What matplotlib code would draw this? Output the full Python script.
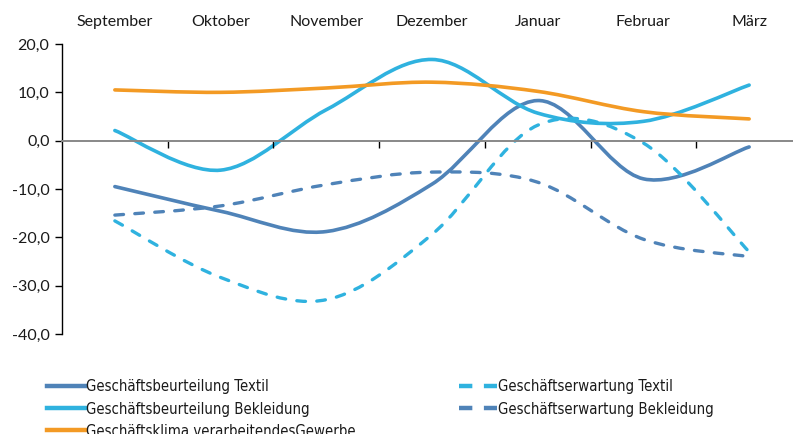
import matplotlib
matplotlib.use("Agg")
import matplotlib.pyplot as plt
from matplotlib.path import Path
from matplotlib.patches import PathPatch
from matplotlib.lines import Line2D
from matplotlib.font_manager import FontProperties
import numpy as np

months = ["September", "Oktober", "November", "Dezember", "Januar", "Februar", "März"]

beurteilung_textil = [-9.5, -14.6, -18.8, -9.0, 8.3, -7.9, -1.3]
beurteilung_bekleidung = [2.1, -6.1, 6.4, 16.8, 5.7, 4.0, 11.5]
klima_gewerbe = [10.5, 10.0, 10.9, 12.1, 10.2, 6.0, 4.5]
erwartung_textil = [-16.6, -28.3, -32.9, -19.4, 3.2, -0.5, -23.0]
erwartung_bekleidung = [-15.4, -13.5, -9.1, -6.5, -8.6, -20.4, -24.0]

labels = ["Geschäftsbeurteilung Textil", "Geschäftsbeurteilung Bekleidung",
          "Geschäftsklima verarbeitendesGewerbe",
          "Geschäftserwartung Textil", "Geschäftserwartung Bekleidung"]

c_steel = "#4f83b8"
c_cyan = "#2fb2df"
c_orange = "#f39a24"

plt.rcParams['font.family'] = ['Lato', 'DejaVu Sans']
txt_color = "#1a1a1a"


def smooth_path(y):
    # Excel-artige Glättung: Catmull-Rom als kubische Bezier-Segmente
    pts = np.column_stack([np.arange(len(y)), np.asarray(y, float)])
    ext = np.vstack([pts[0], pts, pts[-1]])
    verts = [pts[0]]
    codes = [Path.MOVETO]
    for i in range(len(pts) - 1):
        p0, p1, p2, p3 = ext[i], ext[i + 1], ext[i + 2], ext[i + 3]
        verts += [p1 + (p2 - p0) / 6, p2 - (p3 - p1) / 6, p2]
        codes += [Path.CURVE4] * 3
    return Path(verts, codes)


fig = plt.figure(figsize=(7.93, 4.34), dpi=100)
ax = fig.add_axes([62 / 793, 100 / 434, 740 / 793, 290 / 434])

series = [
    (beurteilung_textil, c_steel, "-"),
    (beurteilung_bekleidung, c_cyan, "-"),
    (klima_gewerbe, c_orange, "-"),
    (erwartung_textil, c_cyan, "--"),
    (erwartung_bekleidung, c_steel, "--"),
]
for vals, col, ls in series:
    if ls == "-":
        patch = PathPatch(smooth_path(vals), facecolor="none", edgecolor=col,
                          lw=2.6, capstyle="round", joinstyle="round")
    else:
        patch = PathPatch(smooth_path(vals), facecolor="none", edgecolor=col,
                          lw=2.4, capstyle="round", linestyle=(0, (2.6, 3.4)))
    ax.add_patch(patch)

ax.set_xlim(-0.5, len(months) - 0.5)
ax.set_ylim(-40, 20)
ax.set_yticks(np.arange(-40, 21, 10))
ax.set_yticklabels([f"{v:.1f}".replace(".", ",") for v in np.arange(-40, 21, 10)])

ax.set_xticks(range(len(months)))
ax.set_xticklabels(months)
ax.set_xticks(np.arange(0.5, len(months) - 1, 1.0), minor=True)

for s in ["top", "right"]:
    ax.spines[s].set_visible(False)
ax.spines["left"].set_color("#000000")
ax.spines["left"].set_linewidth(1.0)
ax.spines["bottom"].set_position(("data", 0))
ax.spines["bottom"].set_color("#888888")
ax.spines["bottom"].set_linewidth(1.4)

ax.tick_params(axis="x", which="major", bottom=False, top=False,
               labelbottom=False, labeltop=True, pad=7,
               labelsize=11.5, labelcolor=txt_color)
ax.tick_params(axis="x", which="minor", bottom=True, top=False,
               direction="out", length=5, width=1.0, color="#000000")
ax.tick_params(axis="y", direction="out", length=5, width=1.0, pad=4,
               labelsize=11.5, labelcolor=txt_color)

h_left = [Line2D([], [], color=c_steel, lw=3.2),
          Line2D([], [], color=c_cyan, lw=3.2),
          Line2D([], [], color=c_orange, lw=3.2)]
h_right = [Line2D([], [], color=c_cyan, lw=3.2, linestyle=(0, (3.0, 2.6))),
           Line2D([], [], color=c_steel, lw=3.2, linestyle=(0, (3.0, 2.6)))]

leg_font = FontProperties(family=["DejaVu Sans"], stretch="condensed", size=10.7)
leg1 = fig.legend(h_left, labels[:3], loc="upper left",
                  bbox_to_anchor=(40 / 793, 1 - 372 / 434), frameon=False,
                  prop=leg_font, handlelength=2.5, handletextpad=0.1,
                  labelspacing=0.48, borderpad=0, labelcolor=txt_color)
leg2 = fig.legend(h_right, labels[3:], loc="upper left",
                  bbox_to_anchor=(452 / 793, 1 - 372 / 434), frameon=False,
                  prop=leg_font, handlelength=2.5, handletextpad=0.1,
                  labelspacing=0.48, borderpad=0, labelcolor=txt_color)

fig.savefig("out.png", dpi=100)
